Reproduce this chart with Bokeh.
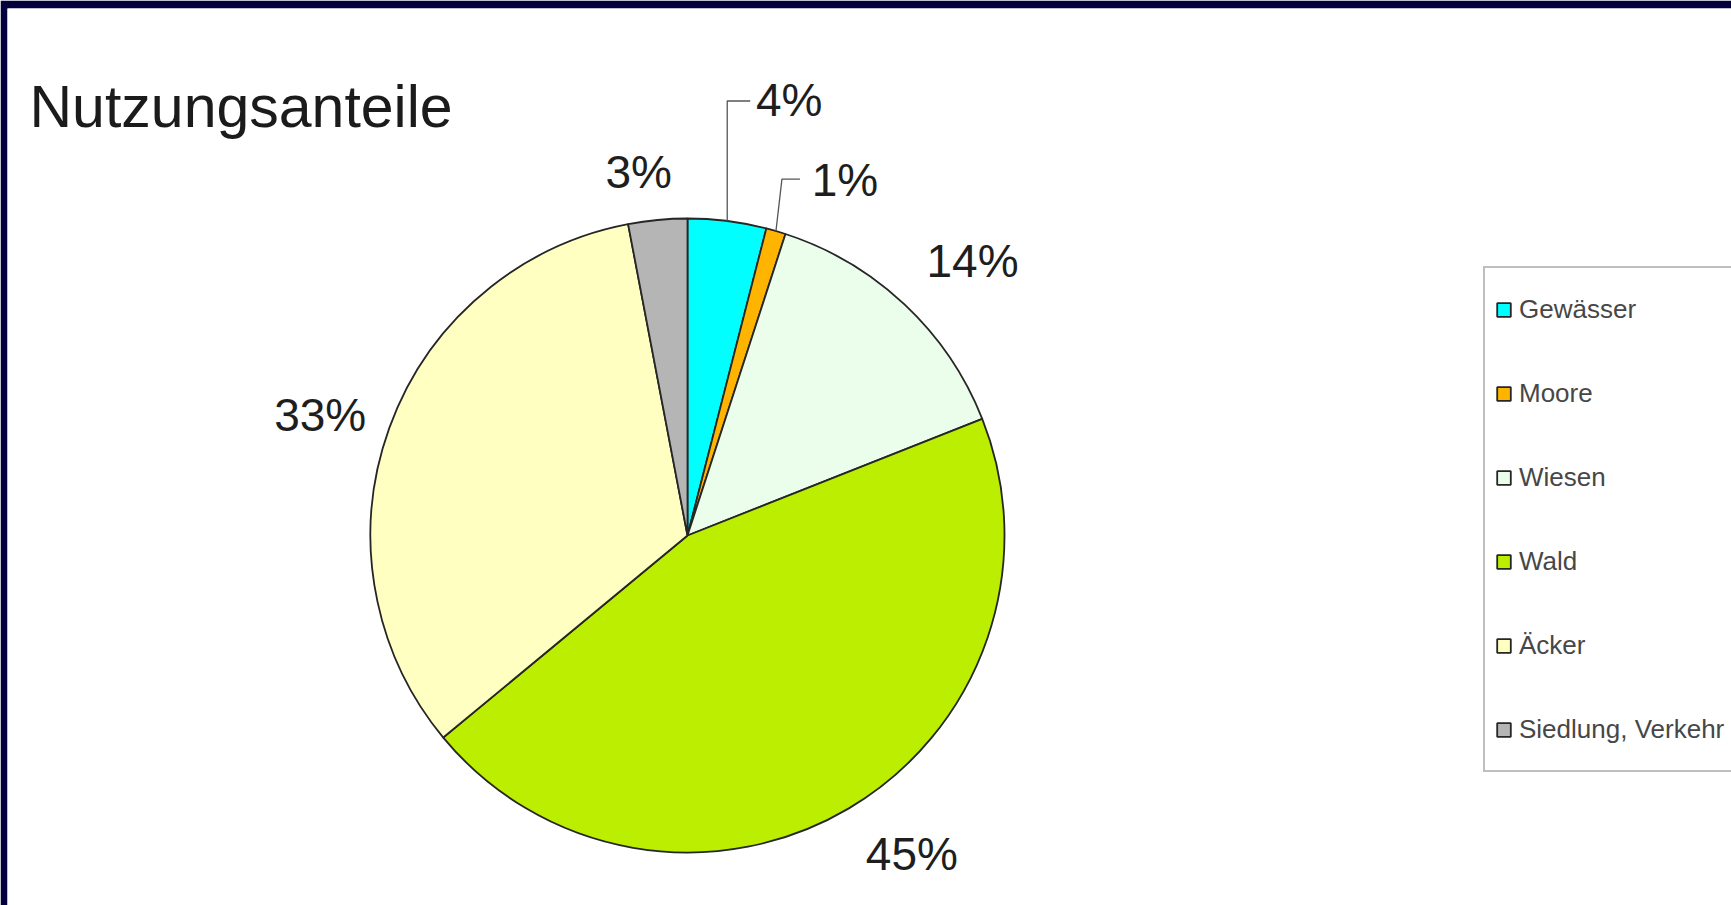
import numpy as np
from bokeh.plotting import figure
from bokeh.models import Range1d, Legend, LegendItem, Label, ColumnDataSource
from bokeh.core.properties import value
from bokeh.embed import file_html
from bokeh.resources import INLINE

# ---- data ----
categories = ["Gewässer", "Moore", "Wiesen", "Wald", "Äcker", "Siedlung, Verkehr"]
shares = [4, 1, 14, 45, 33, 3]
pct_labels = ["4%", "1%", "14%", "45%", "33%", "3%"]
colors = ["#00FFFF", "#FFB400", "#EBFDEB", "#BBEE00", "#FFFFC2", "#B5B5B5"]

# ---- layout (screen pixels) ----
W, H = 1731, 905
BT, BL = 8, 7
CX, CY, R = 687, 535, 317
FONT = "Liberation Sans"
# label offsets from the slice's outer mid point (dx, dy downwards)
label_off = [(62, -121), (69, -51), (68, -43), (63, 46), (-69, -13), (-19, -48)]
# leader lines: (elbow offset, end offset) or None
leaders = [((0, -120), (23, -120)), ((6, -52), (24, -52)), None, None, None, None]

frac = np.array(shares, dtype=float) / sum(shares)
cum_end = np.cumsum(frac)
cum_start = cum_end - frac
start_ang = np.pi / 2 - 2 * np.pi * cum_start
end_ang = np.pi / 2 - 2 * np.pi * cum_end
mid = 2 * np.pi * (cum_start + cum_end) / 2  # clockwise from top

def dy(y):
    return H - y

src = ColumnDataSource(dict(cat=categories, start=start_ang, end=end_ang, color=colors))

p = figure(width=W, height=H, x_range=Range1d(BL, W), y_range=Range1d(0, H - BT),
           output_backend="svg", toolbar_location=None,
           x_axis_type=None, y_axis_type=None,
           min_border_left=BL, min_border_top=BT, min_border_right=0, min_border_bottom=0)
p.outline_line_color = None
p.border_fill_color = "#03003c"
p.background_fill_color = "white"

r = p.wedge(x=CX, y=dy(CY), radius=R, start_angle="end", end_angle="start",
            direction="anticlock", fill_color="color", line_color="#262626",
            line_width=1.8, source=src)

# labels
lx, ly, lines_x, lines_y = [], [], [], []
for i in range(len(shares)):
    ex = CX + R * np.sin(mid[i])
    ey = CY - R * np.cos(mid[i])
    ox, oy = label_off[i]
    lx.append(ex + ox)
    ly.append(dy(ey + oy))
    if leaders[i] is not None:
        (e1x, e1y), (e2x, e2y) = leaders[i]
        lines_x.append([ex, ex + e1x, ex + e2x])
        lines_y.append([dy(ey), dy(ey + e1y), dy(ey + e2y)])

p.multi_line(xs=lines_x, ys=lines_y, line_color="#555555", line_width=1.3)
p.text(x=lx, y=ly, text=pct_labels, text_font=value(FONT), text_font_size="46px",
       text_align="center", text_baseline="middle", text_color="#1e1e1e")

title = Label(x=29, y=dy(106), text="Nutzungsanteile", text_font=FONT,
              text_font_size="59px", text_baseline="middle", text_color="#1b1b1b")
p.add_layout(title)

items = [LegendItem(label=c, renderers=[r], index=i) for i, c in enumerate(categories)]
legend = Legend(items=items, location=(1476, 133), padding=10, margin=0,
                spacing=22, label_height=62, glyph_width=17, glyph_height=17,
                label_standoff=7, label_text_font=FONT, label_text_font_size="26px",
                label_text_color="#474747", border_line_color="#7f7f7f",
                border_line_width=2, background_fill_color="white",
                background_fill_alpha=1.0)
p.add_layout(legend)

open("out.html", "w").write(file_html(p, INLINE))
